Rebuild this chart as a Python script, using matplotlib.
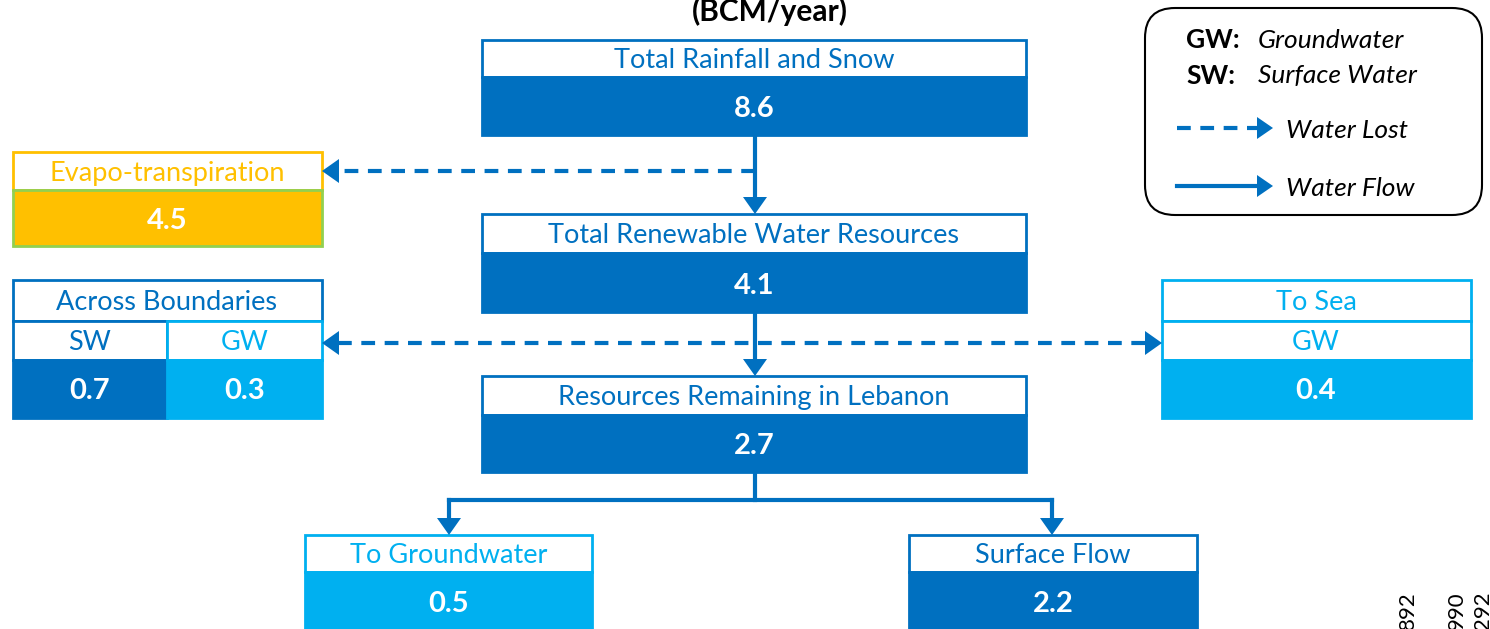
import matplotlib
matplotlib.use("Agg")
import matplotlib.pyplot as plt
from matplotlib.patches import Rectangle, Polygon, FancyBboxPatch

plt.rcParams['font.family'] = ['Lato', 'DejaVu Sans']

DARK = '#0070C0'
LIGHT = '#00B0F0'
ORANGE = '#FFC000'
GREEN = '#92D050'

# data
main_titles = ["Total Rainfall and Snow", "Total Renewable Water Resources",
               "Resources Remaining in Lebanon"]
main_values = [8.6, 4.1, 2.7]
evap_title = "Evapo-transpiration"
evap_value = 4.5
boundary_title = "Across Boundaries"
boundary_labels = ["SW", "GW"]
boundary_values = [0.7, 0.3]
sea_title = "To Sea"
sea_labels = ["GW"]
sea_values = [0.4]
split_titles = ["To Groundwater", "Surface Flow"]
split_values = [0.5, 2.2]
legend_abbr = [("GW:", "Groundwater"), ("SW:", "Surface Water")]
legend_lines = ["Water Lost", "Water Flow"]
side_codes = ["892", "990", "292"]

fig = plt.figure(figsize=(14.9, 6.29), dpi=100)
ax = fig.add_axes([0, 0, 1, 1])
ax.set_xlim(0, 1490)
ax.set_ylim(629, 0)
ax.axis('off')

FS = 19.5     # box headers
VS = 21       # values
LS = 19       # legend
DY = 2        # small downward nudge for text centring


def rect(x0, y0, x1, y1, face, edge, lw=2.0, z=2):
    ax.add_patch(Rectangle((x0, y0), x1 - x0, y1 - y0, facecolor=face,
                           edgecolor=edge, lw=lw, zorder=z))


def txt(x, y, s, color, bold=False, size=FS):
    ax.text(x, y + DY, s, color=color, fontsize=size, ha='center', va='center',
            fontweight='bold' if bold else 'normal', zorder=5)


def head(x, y, direction, color=DARK, L=17, W=12):
    # triangle arrow head with tip at (x, y)
    if direction == 'down':
        pts = [(x, y), (x - W, y - L), (x + W, y - L)]
    elif direction == 'left':
        pts = [(x, y), (x + L, y - W), (x + L, y + W)]
    else:
        pts = [(x, y), (x - L, y - W), (x - L, y + W)]
    ax.add_patch(Polygon(pts, closed=True, color=color, lw=0, zorder=4))


def titled_box(x0, x1, y0, ym, y1, title, value, tcolor, edge, fill, yv=None):
    rect(x0, y0, x1, ym, 'white', edge)
    rect(x0, ym, x1, y1, fill, fill)
    txt((x0 + x1) / 2, (y0 + ym) / 2, title, tcolor)
    if yv is None:
        yv = (ym + y1) / 2 + 1
    txt((x0 + x1) / 2, yv, f"{value:.1f}", 'white', bold=True, size=VS)


# title
ax.text(770, 11, "(BCM/year)", fontsize=21.5, fontweight='bold', ha='center',
        va='center', color='black')

# main column
main_y = [(40, 77, 135), (214, 253, 312), (376, 415, 472)]
for (y0, ym, y1), t, v in zip(main_y, main_titles, main_values):
    titled_box(482, 1026, y0, ym, y1, t, v, DARK, DARK, DARK)

CX = 755
LW = 3.0
DASH = (0, (3.3, 2.3))
ax.plot([CX, CX], [135, 200], color=DARK, lw=LW, zorder=3)
head(CX, 214, 'down')
ax.plot([CX, CX], [312, 362], color=DARK, lw=LW, zorder=3)
head(CX, 376, 'down')

# evapo-transpiration
rect(13, 152, 322, 190, 'white', ORANGE)
rect(13, 190, 322, 246, ORANGE, GREEN)
txt(167, 171, evap_title, ORANGE)
txt(167, 219, f"{evap_value:.1f}", 'white', bold=True, size=VS)

ax.plot([CX, 338], [171, 171], color=DARK, lw=LW, ls=DASH, zorder=3)
head(322, 171, 'left')

# across boundaries
rect(13, 280, 322, 321, 'white', DARK)
txt(167, 301, boundary_title, DARK)
bx = [(13, 167), (167, 322)]
bcol = [DARK, LIGHT]
for (x0, x1), lab, v, c in zip(bx, boundary_labels, boundary_values, bcol):
    rect(x0, 321, x1, 360, 'white', c)
    rect(x0, 360, x1, 418, c, c)
    txt((x0 + x1) / 2, 341, lab, c)
    txt((x0 + x1) / 2, 389, f"{v:.1f}", 'white', bold=True, size=VS)

# to sea
rect(1162, 280, 1471, 321, 'white', LIGHT)
txt(1316, 301, sea_title, LIGHT)
for lab, v in zip(sea_labels, sea_values):
    rect(1162, 321, 1471, 360, 'white', LIGHT)
    rect(1162, 360, 1471, 418, LIGHT, LIGHT)
    txt(1316, 341, lab, LIGHT)
    txt(1316, 389, f"{v:.1f}", 'white', bold=True, size=VS)

ax.plot([338, 1146], [343, 343], color=DARK, lw=LW, ls=DASH, zorder=3)
head(322, 343, 'left')
head(1162, 343, 'right')

# split
ax.plot([CX, CX], [472, 500], color=DARK, lw=LW, zorder=3)
ax.plot([449, 1052], [500, 500], color=DARK, lw=LW, zorder=3)
for xs in (449, 1052):
    ax.plot([xs, xs], [500, 522], color=DARK, lw=LW, zorder=3)
    head(xs, 535, 'down')

split_x = [(305, 592), (909, 1197)]
split_col = [LIGHT, DARK]
for (x0, x1), t, v, c in zip(split_x, split_titles, split_values, split_col):
    titled_box(x0, x1, 535, 572, 640, t, v, c, c, c, yv=602)

# legend
ax.add_patch(FancyBboxPatch((1145, 8), 337, 207,
                            boxstyle="round,pad=0,rounding_size=30",
                            facecolor='white', edgecolor='black', lw=1.5,
                            zorder=2))
for (ab, full), y in zip(legend_abbr, [38, 74]):
    ax.text(1186, y + DY, ab, fontsize=LS, fontweight='bold', ha='left',
            va='center', zorder=5)
    ax.text(1258, y + DY, full, fontsize=LS, fontstyle='italic', ha='left',
            va='center', zorder=5)

ax.plot([1177, 1257], [128, 128], color=DARK, lw=LW, ls=DASH, zorder=3)
head(1273, 128, 'right', W=11, L=16)
ax.plot([1177, 1260], [186, 186], color=DARK, lw=LW, zorder=3)
head(1273, 186, 'right', W=11, L=16)
for lab, y in zip(legend_lines, [128, 186]):
    ax.text(1286, y + DY, lab, fontsize=LS, fontstyle='italic', ha='left',
            va='center', zorder=5)

# stray codes at the bottom right edge
for s, x in zip(side_codes, [1408, 1457, 1483]):
    ax.text(x, 591, s, fontsize=16, rotation=90, ha='center', va='top',
            color='black', zorder=5)

fig.savefig("out.png", dpi=100)
